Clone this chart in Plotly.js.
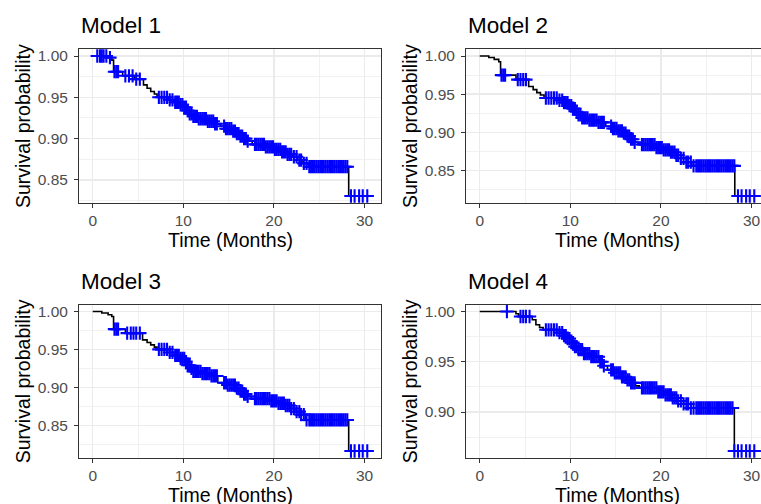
<!DOCTYPE html>
<html><head><meta charset="utf-8">
<script src="https://cdn.plot.ly/plotly-3.0.1.min.js"></script>
<style>html,body{margin:0;padding:0;overflow:hidden;background:#fff}#chart{width:770px;height:504px}</style>
</head><body><div id="chart"></div>
<script>
// ---------------- data ----------------
const modelNames = ["Model 1", "Model 2", "Model 3", "Model 4"];
const xTitle = "Time (Months)";
const yTitle = "Survival probability";

// step (event) times and survival after each step
const m1Time = [0, 1.6, 2.1, 2.3, 3.3, 4.6, 5.6, 6.0, 6.4, 6.8, 7.1, 8.4, 9.0, 9.6, 10.1, 10.4, 10.7, 11.0, 11.6, 12.6, 13.4, 14.1, 14.7, 15.4, 15.8, 16.2, 16.6, 17.0, 17.6, 19.0, 20.0, 20.8, 21.5, 22.0, 22.6, 23.1, 23.8, 28.25];
const m1Surv = [1.0, 0.998, 0.995, 0.981, 0.976, 0.972, 0.965, 0.961, 0.957, 0.954, 0.950, 0.947, 0.944, 0.941, 0.938, 0.934, 0.930, 0.927, 0.924, 0.921, 0.918, 0.915, 0.912, 0.909, 0.906, 0.903, 0.900, 0.897, 0.893, 0.890, 0.887, 0.884, 0.881, 0.878, 0.874, 0.870, 0.866, 0.8305];

const m2Time = [0, 1.0, 1.6, 2.1, 2.3, 4.0, 5.4, 5.9, 6.3, 6.7, 7.1, 8.7, 9.3, 9.9, 10.3, 10.6, 10.9, 11.2, 12.0, 13.0, 13.9, 14.6, 15.3, 15.9, 16.3, 16.7, 17.1, 17.5, 19.5, 20.3, 21.0, 21.7, 22.2, 22.8, 23.4, 28.15];
const m2Surv = [1.0, 0.998, 0.9956, 0.9925, 0.975, 0.969, 0.960, 0.956, 0.952, 0.949, 0.945, 0.942, 0.939, 0.935, 0.931, 0.927, 0.923, 0.919, 0.916, 0.913, 0.908, 0.905, 0.902, 0.899, 0.895, 0.891, 0.887, 0.884, 0.880, 0.877, 0.874, 0.870, 0.866, 0.861, 0.856, 0.8166];

const m3Time = [0, 1.0, 1.7, 2.1, 2.3, 3.6, 5.5, 6.0, 6.4, 6.8, 7.1, 8.5, 9.1, 9.7, 10.2, 10.5, 10.8, 11.1, 12.0, 13.0, 13.8, 14.9, 15.8, 16.3, 16.7, 17.1, 17.5, 19.6, 20.4, 21.2, 21.8, 22.3, 22.9, 23.5, 28.25];
const m3Surv = [1.0, 0.998, 0.9956, 0.9934, 0.9767, 0.9714, 0.9626, 0.959, 0.956, 0.953, 0.950, 0.946, 0.942, 0.938, 0.934, 0.929, 0.925, 0.921, 0.918, 0.915, 0.906, 0.903, 0.899, 0.895, 0.891, 0.888, 0.885, 0.882, 0.879, 0.876, 0.872, 0.868, 0.864, 0.857, 0.816];

const m4Time = [0, 4.0, 4.3, 5.8, 6.2, 6.6, 7.0, 8.8, 9.3, 9.7, 10.1, 10.5, 10.9, 11.4, 12.3, 13.2, 13.7, 14.1, 14.8, 15.6, 16.2, 16.7, 17.2, 17.6, 19.7, 20.5, 21.2, 21.8, 22.5, 23.3, 28.1];
const m4Surv = [1.0, 0.9977, 0.995, 0.9917, 0.9868, 0.984, 0.9818, 0.979, 0.976, 0.973, 0.969, 0.965, 0.962, 0.958, 0.955, 0.950, 0.946, 0.942, 0.939, 0.935, 0.932, 0.929, 0.926, 0.924, 0.920, 0.917, 0.914, 0.911, 0.908, 0.904, 0.8612];

// censoring times
const m1CensorEarly = [0.5, 0.8, 1.0, 1.2, 1.5, 1.9, 2.4, 2.6, 2.8, 3.6, 4.0, 4.4, 4.8, 5.2];
const m2CensorEarly = [2.4, 2.6, 2.8, 4.2, 4.5, 4.8, 5.1];
const m3CensorEarly = [2.4, 2.6, 2.8, 3.8, 4.2, 4.5, 4.8, 5.2];
const m4CensorEarly = [3.0, 4.5, 4.8, 5.1, 5.5];
const censorCommon = [7.3, 7.6, 7.9, 8.2, 8.5, 8.8, 9.1, 9.3, 9.5, 9.7, 9.9, 10.1, 10.3, 10.5, 10.7, 10.9, 11.1, 11.3, 11.5, 11.7, 11.9, 12.1, 12.3, 12.5, 12.7, 12.9, 13.1, 13.3, 13.5, 13.7, 14.5, 14.7, 14.9, 15.1, 15.3, 15.5, 15.7, 15.9, 16.1, 16.3, 16.5, 16.7, 16.9, 17.1, 17.9, 18.1, 18.3, 18.5, 18.7, 18.9, 19.1, 19.3, 19.5, 19.7, 19.9, 20.1, 20.3, 20.5, 20.7, 20.9, 21.1, 21.3, 21.5, 21.7, 21.9, 22.2, 22.5, 22.8, 23.0, 23.3, 23.6, 23.9, 24.1, 24.3, 24.5, 24.7, 24.9, 25.1, 25.3, 25.5, 25.7, 25.9, 26.1, 26.3, 26.5, 26.7, 26.9, 27.1, 27.3, 27.5, 27.7, 27.9, 28.1, 28.5, 28.9, 29.4, 29.8, 30.3];

const xTickVals = [0, 10, 20, 30];

// ---------------- build ----------------
const models = [
  {time: m1Time, surv: m1Surv, censor: m1CensorEarly.concat(censorCommon)},
  {time: m2Time, surv: m2Surv, censor: m2CensorEarly.concat(censorCommon)},
  {time: m3Time, surv: m3Surv, censor: m3CensorEarly.concat(censorCommon)},
  {time: m4Time, surv: m4Surv, censor: m4CensorEarly.concat(censorCommon)}
];

function survAt(m, t) {
  let s = m.surv[0];
  for (let i = 0; i < m.time.length; i++) { if (m.time[i] <= t) s = m.surv[i]; }
  return s;
}

const W = 770, H = 504;
// panel pixel boxes [left, right, top, bottom]
const boxes = [[79, 381, 49, 203], [466, 768, 49, 203], [79, 381, 304.5, 458], [466, 768, 304.5, 458]];
const FONT = '"Liberation Sans", Arial, Helvetica, sans-serif';

const traces = [];
const layout = {
  width: W, height: H, margin: {l: 0, r: 0, t: 0, b: 0},
  paper_bgcolor: '#fff', plot_bgcolor: '#fff', showlegend: false,
  font: {family: FONT}, annotations: []
};

models.forEach((m, i) => {
  const k = i + 1;
  const xa = 'x' + (k === 1 ? '' : k), ya = 'y' + (k === 1 ? '' : k);
  const tMax = Math.max(m.time[m.time.length - 1], Math.max.apply(null, m.censor));
  const lx = m.time.concat([tMax]);
  const ly = m.surv.concat([m.surv[m.surv.length - 1]]);
  traces.push({x: lx, y: ly, xaxis: xa, yaxis: ya, type: 'scatter', mode: 'lines',
    line: {shape: 'hv', color: '#000', width: 1.6}, hoverinfo: 'skip'});
  traces.push({x: m.censor, y: m.censor.map(t => survAt(m, t)), xaxis: xa, yaxis: ya,
    type: 'scatter', mode: 'markers',
    marker: {symbol: 'cross-thin', size: 9.5, color: '#0000FF', line: {color: '#0000FF', width: 2.1}}});

  const sMin = Math.min.apply(null, m.surv), sMax = Math.max.apply(null, m.surv);
  const dy = sMax - sMin, dx = tMax - 0;
  const b = boxes[i];
  const common = {
    showline: true, mirror: true, linecolor: '#333333', linewidth: 1,
    ticks: 'outside', ticklen: 4, tickwidth: 1, tickcolor: '#333333',
    showgrid: true, gridcolor: '#EBEBEB', gridwidth: 1.4, zeroline: false,
    tickfont: {family: FONT, size: 15.5, color: '#4D4D4D'}
  };
  layout['xaxis' + (k === 1 ? '' : k)] = Object.assign({}, common, {
    domain: [b[0] / W, b[1] / W], anchor: ya, ticklabelstandoff: -1,
    range: [0 - 0.05 * dx, tMax + 0.05 * dx],
    tickmode: 'array', tickvals: xTickVals,
    minor: {tickmode: 'array', tickvals: [5, 15, 25], showgrid: true, gridcolor: '#EDEDED', gridwidth: 0.8}
  });
  layout['yaxis' + (k === 1 ? '' : k)] = Object.assign({}, common, {
    domain: [1 - b[3] / H, 1 - b[2] / H], anchor: xa, ticklabelstandoff: 3,
    range: [sMin - 0.05 * dy, sMax + 0.05 * dy],
    tickmode: 'linear', tick0: 0, dtick: 0.05, tickformat: '.2f',
    minor: {tickmode: 'linear', tick0: 0.025, dtick: 0.05, showgrid: true, gridcolor: '#EDEDED', gridwidth: 0.8}
  });

  layout.annotations.push({text: modelNames[i], xref: 'paper', yref: 'paper',
    x: b[0] / W, y: 1 - (b[2] - 23.3) / H, xanchor: 'left', yanchor: 'middle', showarrow: false,
    font: {family: FONT, size: 22.5, color: '#000'}});
  layout.annotations.push({text: xTitle, xref: 'paper', yref: 'paper',
    x: (b[0] + b[1]) / 2 / W, y: 1 - (b[3] + 37) / H, xanchor: 'center', yanchor: 'middle', showarrow: false,
    font: {family: FONT, size: 19.5, color: '#000'}});
  layout.annotations.push({text: yTitle, xref: 'paper', yref: 'paper', textangle: -90,
    x: (b[0] - 56) / W, y: 1 - (b[2] + b[3]) / 2 / H, xanchor: 'center', yanchor: 'middle', showarrow: false,
    font: {family: FONT, size: 19.5, color: '#000'}});
});

Plotly.newPlot('chart', traces, layout, {staticPlot: true, displayModeBar: false});
</script>
</body></html>
